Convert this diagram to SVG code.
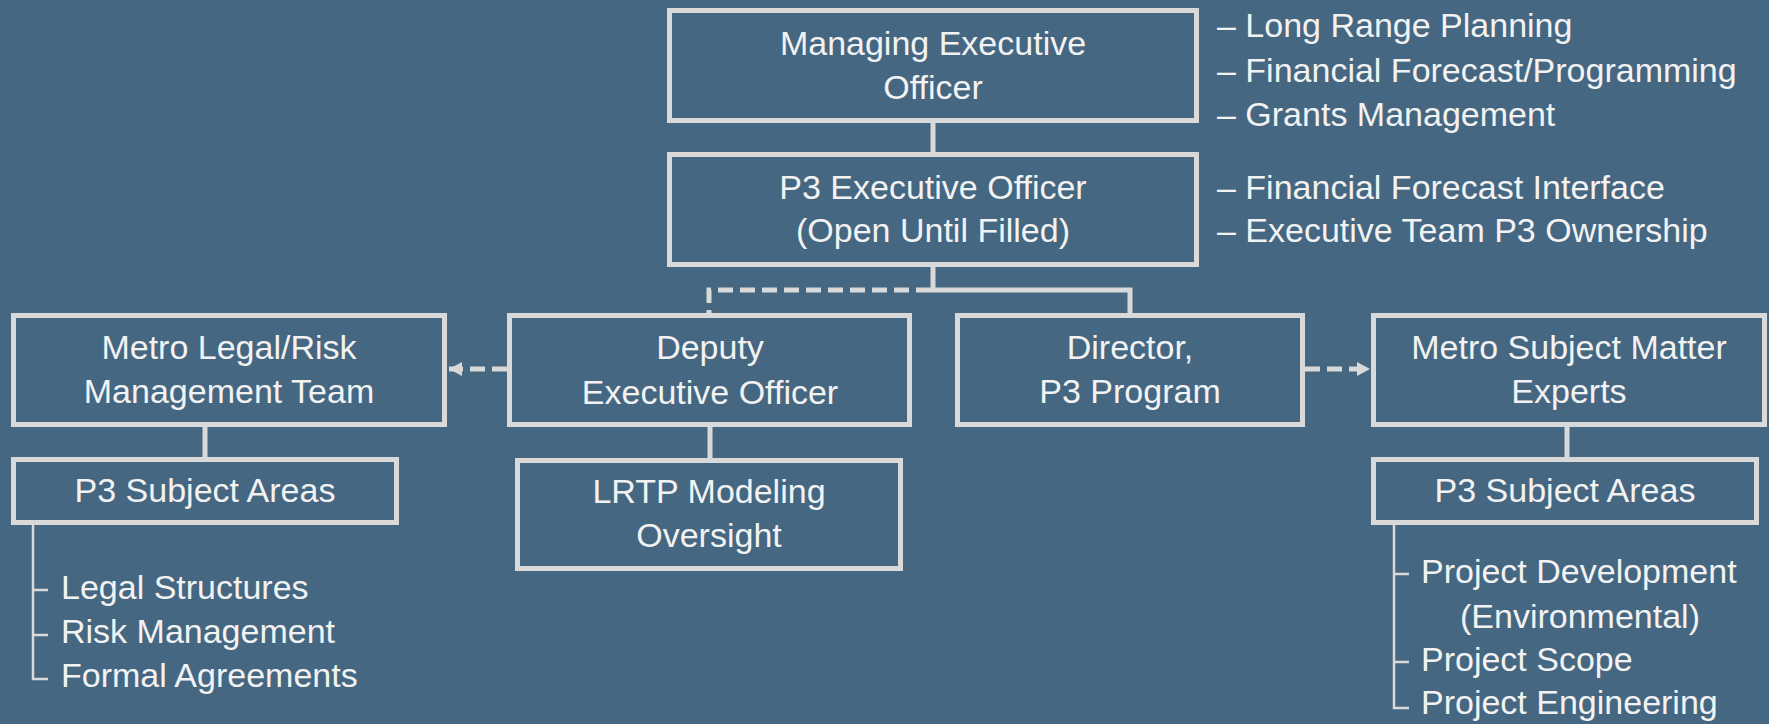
<svg xmlns="http://www.w3.org/2000/svg" width="1769" height="724" viewBox="0 0 1769 724">
  <style>
    .box { fill: none; stroke: #D9D9D9; stroke-width: 5; }
    .t { font-family: "Liberation Sans", Arial, sans-serif; font-size: 34px; fill: #F2F2F2; }
    .c { text-anchor: middle; }
    .solid { fill: none; stroke: #D9D9D9; stroke-width: 5; }
    .dash { fill: none; stroke: #D9D9D9; stroke-width: 5; stroke-dasharray: 15 7; }
    .thin { fill: none; stroke: #D9D9D9; stroke-width: 2.5; }
  </style>
  <defs>
    <marker id="arrow" markerUnits="userSpaceOnUse" markerWidth="14" markerHeight="14" viewBox="0 0 14 14" refX="13" refY="7" orient="auto">
      <path d="M0,0 L13,7 L0,14 Z" fill="#D9D9D9"/>
    </marker>
  </defs>
  <rect width="1769" height="724" fill="#456781"/>

  <!-- connectors -->
  <g id="connectors">
    <line class="solid" x1="933" y1="122" x2="933" y2="154"/>
    <polyline class="solid" points="933,266 933,290 1130,290 1130,314"/>
    <polyline class="dash" points="931,290 709,290 709,314"/>
    <line class="dash" x1="507" y1="369" x2="449" y2="369" marker-end="url(#arrow)"/>
    <line class="dash" x1="1305" y1="369" x2="1370" y2="369" marker-end="url(#arrow)"/>
    <line class="solid" x1="205" y1="427" x2="205" y2="459"/>
    <line class="solid" x1="710" y1="427" x2="710" y2="460"/>
    <line class="solid" x1="1567" y1="427" x2="1567" y2="459"/>
    <!-- subject-area brackets -->
    <polyline class="thin" points="33,525 33,679 48,679"/>
    <line class="thin" x1="33" y1="590" x2="48" y2="590"/>
    <line class="thin" x1="33" y1="635" x2="48" y2="635"/>
    <polyline class="thin" points="1394,525 1394,708 1409,708"/>
    <line class="thin" x1="1394" y1="574" x2="1409" y2="574"/>
    <line class="thin" x1="1394" y1="662" x2="1409" y2="662"/>
  </g>

  <g id="managing-executive-officer">
    <rect class="box" x="669.5" y="10.5" width="527" height="110"/>
    <text class="t c" x="933" y="55">Managing Executive</text>
    <text class="t c" x="933" y="99">Officer</text>
  </g>

  <g id="managing-duties">
    <text class="t" x="1217" y="37">– Long Range Planning</text>
    <text class="t" x="1217" y="82">– Financial Forecast/Programming</text>
    <text class="t" x="1217" y="126">– Grants Management</text>
  </g>

  <g id="p3-executive-officer">
    <rect class="box" x="669.5" y="154.5" width="527" height="110"/>
    <text class="t c" x="933" y="199">P3 Executive Officer</text>
    <text class="t c" x="933" y="242">(Open Until Filled)</text>
  </g>

  <g id="p3-duties">
    <text class="t" x="1217" y="199">– Financial Forecast Interface</text>
    <text class="t" x="1217" y="242">– Executive Team P3 Ownership</text>
  </g>

  <g id="metro-legal-risk">
    <rect class="box" x="13.5" y="315.5" width="431" height="109"/>
    <text class="t c" x="229" y="359">Metro Legal/Risk</text>
    <text class="t c" x="229" y="403">Management Team</text>
  </g>

  <g id="deputy-executive-officer">
    <rect class="box" x="509.5" y="315.5" width="400" height="109"/>
    <text class="t c" x="710" y="359">Deputy</text>
    <text class="t c" x="710" y="404">Executive Officer</text>
  </g>

  <g id="director-p3-program">
    <rect class="box" x="957.5" y="315.5" width="345" height="109"/>
    <text class="t c" x="1130" y="359">Director,</text>
    <text class="t c" x="1130" y="403">P3 Program</text>
  </g>

  <g id="metro-subject-matter-experts">
    <rect class="box" x="1373.5" y="315.5" width="391" height="109"/>
    <text class="t c" x="1569" y="359">Metro Subject Matter</text>
    <text class="t c" x="1569" y="403">Experts</text>
  </g>

  <g id="legal-subject-areas">
    <rect class="box" x="13.5" y="459.5" width="383" height="63"/>
    <text class="t c" x="205" y="502">P3 Subject Areas</text>
  </g>

  <g id="legal-subject-list">
    <text class="t" x="61" y="599">Legal Structures</text>
    <text class="t" x="61" y="643">Risk Management</text>
    <text class="t" x="61" y="687">Formal Agreements</text>
  </g>

  <g id="lrtp-modeling-oversight">
    <rect class="box" x="517.5" y="460.5" width="383" height="108"/>
    <text class="t c" x="709" y="503">LRTP Modeling</text>
    <text class="t c" x="709" y="547">Oversight</text>
  </g>

  <g id="sme-subject-areas">
    <rect class="box" x="1373.5" y="459.5" width="383" height="63"/>
    <text class="t c" x="1565" y="502">P3 Subject Areas</text>
  </g>

  <g id="sme-subject-list">
    <text class="t" x="1421" y="583">Project Development</text>
    <text class="t" x="1460" y="628">(Environmental)</text>
    <text class="t" x="1421" y="671">Project Scope</text>
    <text class="t" x="1421" y="714">Project Engineering</text>
  </g>
</svg>
